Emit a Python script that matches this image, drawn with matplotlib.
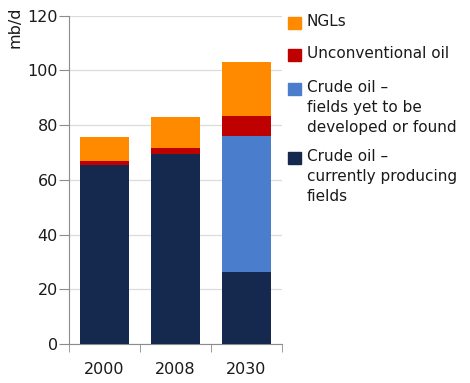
import numpy as np
import matplotlib
matplotlib.use("Agg")
import matplotlib.pyplot as plt
from matplotlib.patches import Rectangle

years = ["2000", "2008", "2030"]
crude_current = [65.4, 69.5, 26.3]
crude_new = [0.0, 0.0, 49.7]
unconventional = [1.4, 2.3, 7.5]
ngls = [8.8, 11.3, 19.5]

series_names = ["Crude oil \u2013\ncurrently producing\nfields",
                "Crude oil \u2013\nfields yet to be\ndeveloped or found",
                "Unconventional oil",
                "NGLs"]
colors = ["#14294d", "#4a7dcc", "#bf0000", "#ff8a00"]
text_color = "#1a1a1a"

plt.rcParams['font.family'] = ['DejaVu Sans']
fig = plt.figure(figsize=(4.70, 3.83), dpi=100)
ax = fig.add_axes([69/470, 1 - 344/383, 213/470, (344 - 15.7)/383])

x = np.arange(len(years))
bottom = np.zeros(len(years))
for vals, col in zip([crude_current, crude_new, unconventional, ngls], colors):
    ax.bar(x, vals, width=0.69, bottom=bottom, color=col, zorder=3)
    bottom += np.array(vals)

ax.set_xlim(-0.5, 2.5)
ax.set_ylim(0, 120)
ax.set_yticks(np.arange(0, 121, 20))
ax.yaxis.grid(True, color="#dcdcdc", linewidth=0.9, zorder=0)
ax.set_xticks(x)
ax.set_xticklabels(years)
ax.set_xticks([-0.5, 0.5, 1.5, 2.5], minor=True)
ax.tick_params(axis='x', which='major', length=0, pad=13, labelsize=11.5, colors=text_color)
ax.tick_params(axis='x', which='minor', length=6, color="#8c8c8c")
ax.tick_params(axis='y', length=7, pad=1, labelsize=11.5, colors=text_color, color="#8c8c8c")
for s in ["top", "right"]:
    ax.spines[s].set_visible(False)
for s in ["left", "bottom"]:
    ax.spines[s].set_color("#8c8c8c")

fig.text(15/470, 1 - 27/383, "mb/d", rotation=90, ha='center', va='center',
         fontsize=11.5, color=text_color)

# legend drawn by hand so the square sits beside the first line
legend_tops = [152, 83, 49, 17]
for name, col, top in zip(series_names, colors, legend_tops):
    fig.patches.append(Rectangle((288/470, 1 - (top + 12)/383), 13/470, 12/383,
                                 transform=fig.transFigure, color=col))
    fig.text(307/470, 1 - (top - 3)/383, name, ha='left', va='top', fontsize=11,
             color=text_color, linespacing=1.4)

fig.savefig("out.png", dpi=100)
